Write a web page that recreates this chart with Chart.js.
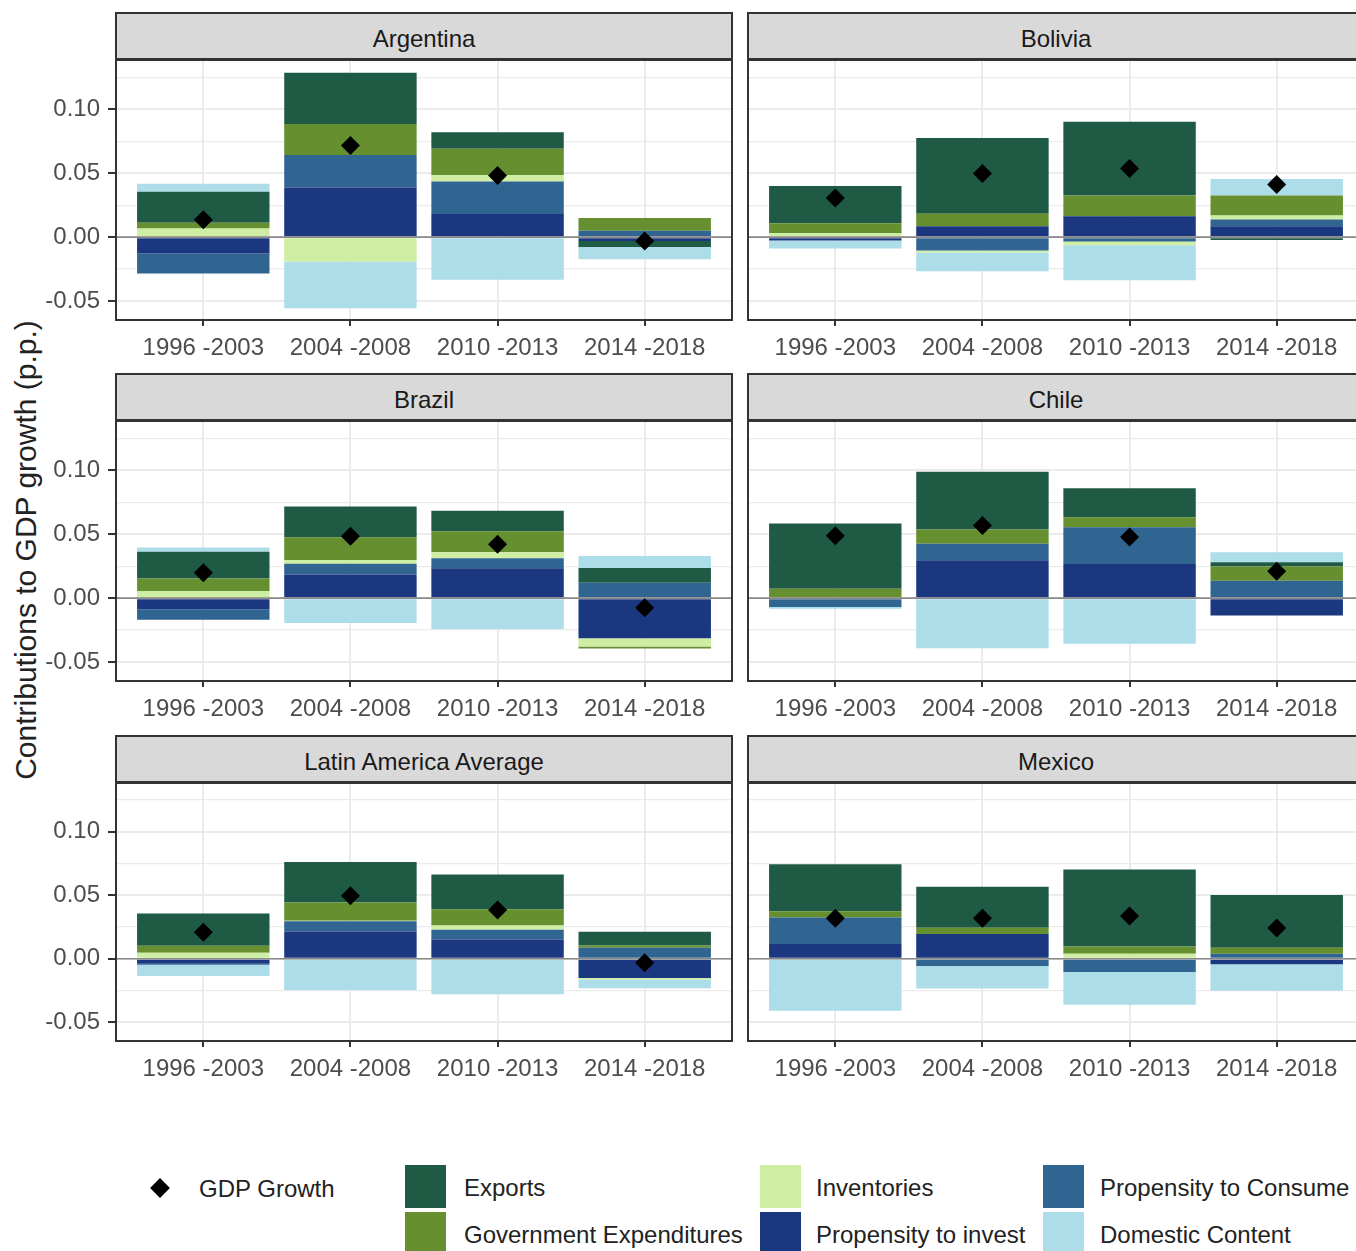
<!DOCTYPE html>
<html>
<head>
<meta charset="utf-8">
<title>Contributions to GDP growth</title>
<script src="https://cdn.jsdelivr.net/npm/chart.js@4.4.0/dist/chart.umd.min.js"></script>
<style>
  html, body { margin: 0; padding: 0; overflow: hidden; }
  body { width: 1356px; height: 1251px; position: relative; background: #fff;
         font-family: "Liberation Sans", Arial, sans-serif; }
  .strip { position: absolute; height: 48px; width: 618px; box-sizing: border-box;
           background: #d9d9d9; border: 2px solid #333; text-align: center;
           line-height: 50px; font-size: 24px; color: #1a1a1a; overflow: hidden; }
  .panel { position: absolute; }
  #ytitle { position: absolute; left: 26px; top: 550px; white-space: nowrap;
            font-size: 30px; color: #222;
            transform: translate(-50%, -50%) rotate(-90deg); }
  .key { position: absolute; width: 41px; height: 43px; }
  .diamond { position: absolute; width: 14px; height: 14px; background: #000; transform: rotate(45deg); }
  .ltext { position: absolute; font-size: 24px; color: #222; line-height: 1;
           transform: translateY(-50%); white-space: nowrap; }
</style>
</head>
<body>
<div id="ytitle">Contributions to GDP growth (p.p.)</div>
<div id="legend"></div>

<script>
const periods = ['1996 -2003', '2004 -2008', '2010 -2013', '2014 -2018'];
const countries = ['Argentina', 'Bolivia', 'Brazil', 'Chile', 'Latin America Average', 'Mexico'];

// one row per country (same order as countries), one column per period
const propInvest = [
  [-0.0128, 0.0388, 0.0180, -0.0030],
  [-0.0026, 0.0086, 0.0164, 0.0086],
  [-0.0086, 0.0185, 0.0234, -0.0313],
  [-0.0008, 0.0297, 0.0266, -0.0135],
  [-0.0039, 0.0214, 0.0151, -0.0151],
  [0.0117, 0.0195, 0.0000, -0.0044]
];
const propConsume = [
  [-0.0156, 0.0255, 0.0255, 0.0050],
  [0.0000, -0.0104, -0.0034, 0.0052],
  [-0.0083, 0.0083, 0.0078, 0.0120],
  [-0.0062, 0.0128, 0.0289, 0.0135],
  [-0.0008, 0.0081, 0.0078, 0.0086],
  [0.0208, -0.0057, -0.0104, 0.0039]
];
const inventories = [
  [0.0068, -0.0190, 0.0050, 0.0000],
  [0.0030, -0.0016, -0.0030, 0.0031],
  [0.0055, 0.0031, 0.0047, -0.0065],
  [0.0000, 0.0000, 0.0000, 0.0000],
  [0.0047, 0.0005, 0.0034, -0.0013],
  [0.0000, 0.0000, 0.0040, 0.0000]
];
const govExpenditures = [
  [0.0044, 0.0242, 0.0206, 0.0099],
  [0.0078, 0.0096, 0.0161, 0.0156],
  [0.0099, 0.0177, 0.0164, -0.0016],
  [0.0073, 0.0112, 0.0078, 0.0112],
  [0.0055, 0.0143, 0.0128, 0.0018],
  [0.0049, 0.0049, 0.0057, 0.0047]
];
const exportsContrib = [
  [0.0242, 0.0401, 0.0130, -0.0047],
  [0.0292, 0.0594, 0.0578, -0.0023],
  [0.0208, 0.0240, 0.0161, 0.0115],
  [0.0510, 0.0451, 0.0227, 0.0034],
  [0.0255, 0.0320, 0.0273, 0.0109],
  [0.0370, 0.0323, 0.0607, 0.0417]
];
const domesticContent = [
  [0.0063, -0.0367, -0.0333, -0.0096],
  [-0.0063, -0.0146, -0.0273, 0.0130],
  [0.0034, -0.0195, -0.0242, 0.0094],
  [-0.0013, -0.0391, -0.0357, 0.0078],
  [-0.0089, -0.0247, -0.0279, -0.0068],
  [-0.0409, -0.0177, -0.0258, -0.0208]
];
const gdpGrowth = [
  [0.0135, 0.0716, 0.0482, -0.0031],
  [0.0305, 0.0497, 0.0536, 0.0411],
  [0.0198, 0.0484, 0.0422, -0.0076],
  [0.0487, 0.0568, 0.0477, 0.0211],
  [0.0208, 0.0497, 0.0385, -0.0031],
  [0.0320, 0.0320, 0.0336, 0.0242]
];

const yMajor = [-0.05, 0, 0.05, 0.10];
const yMinor = [-0.025, 0.025, 0.075, 0.125];
const yMin = -0.0648, yMax = 0.1385;

// stacking order, innermost first
const series = [
  { label: 'Propensity to invest', values: propInvest, color: '#1a377f' },
  { label: 'Propensity to Consume', values: propConsume, color: '#306591' },
  { label: 'Inventories', values: inventories, color: '#cdeea3' },
  { label: 'Government Expenditures', values: govExpenditures, color: '#668f30' },
  { label: 'Exports', values: exportsContrib, color: '#1f5a44' },
  { label: 'Domestic Content', values: domesticContent, color: '#addde8' }
];

Chart.defaults.font.family = '"Liberation Sans", Arial, sans-serif';

const plotW = 618, xAxisH = 52, yAxisW = 115;
const rowTops = [60, 421, 783];
const rowHeights = [260, 260, 258];
const colLefts = [115, 747];

function isMajor(v) {
  return yMajor.some(m => Math.abs(m - v) < 1e-9);
}

// panel frame and the zero reference line under the diamonds
const panelDecor = {
  id: 'panelDecor',
  beforeDatasetDraw(chart, args) {
    if (args.index !== 0) return;
    const a = chart.chartArea, ctx = chart.ctx;
    const y0 = chart.scales.y.getPixelForValue(0);
    ctx.save();
    ctx.strokeStyle = 'rgba(120,120,120,0.85)';
    ctx.lineWidth = 1.6;
    ctx.beginPath();
    ctx.moveTo(a.left, y0);
    ctx.lineTo(a.right, y0);
    ctx.stroke();
    ctx.restore();
  },
  afterDraw(chart) {
    const a = chart.chartArea, ctx = chart.ctx;
    ctx.save();
    ctx.strokeStyle = '#333';
    ctx.lineWidth = 2;
    ctx.strokeRect(a.left + 1, a.top, a.right - a.left - 2, a.bottom - a.top);
    ctx.restore();
  }
};

countries.forEach((country, i) => {
  const col = i % 2, row = Math.floor(i / 2);
  const axisW = col === 0 ? yAxisW : 0;

  const strip = document.createElement('div');
  strip.className = 'strip';
  strip.style.left = colLefts[col] + 'px';
  strip.style.top = (rowTops[row] - 48) + 'px';
  strip.textContent = country;
  document.body.appendChild(strip);

  const canvas = document.createElement('canvas');
  canvas.className = 'panel';
  canvas.width = axisW + plotW;
  canvas.height = rowHeights[row] + xAxisH;
  canvas.style.left = (colLefts[col] - axisW) + 'px';
  canvas.style.top = rowTops[row] + 'px';
  document.body.appendChild(canvas);

  const datasets = [{
    type: 'line',
    label: 'GDP Growth',
    data: gdpGrowth[i].map((v, k) => ({ x: k + 1, y: v })),
    showLine: false,
    stack: 'gdp',
    pointStyle: 'rectRot',
    pointRadius: 9.5,
    pointBorderWidth: 0,
    pointBackgroundColor: '#000',
    borderColor: '#000'
  }];
  series.forEach(s => {
    datasets.push({
      type: 'bar',
      label: s.label,
      data: s.values[i].map((v, k) => ({ x: k + 1, y: v })),
      backgroundColor: s.color,
      borderWidth: 0,
      barPercentage: 0.9,
      categoryPercentage: 1
    });
  });

  new Chart(canvas, {
    data: { datasets },
    options: {
      responsive: false,
      animation: false,
      layout: { padding: 0, autoPadding: false },
      plugins: { legend: { display: false }, tooltip: { enabled: false } },
      scales: {
        x: {
          type: 'linear', min: 0.4, max: 4.6, stacked: true, offset: false,
          afterBuildTicks: s => { s.ticks = periods.map((p, k) => ({ value: k + 1 })); },
          afterFit: s => { s.height = xAxisH; s.paddingLeft = 0; s.paddingRight = 0; },
          ticks: {
            callback: v => periods[v - 1],
            autoSkip: false, maxRotation: 0,
            color: '#4d4d4d', font: { size: 24 }, padding: 8
          },
          grid: { offset: false, color: '#ebebeb', lineWidth: 2, tickColor: '#333', tickLength: 6, tickWidth: 2 },
          border: { display: false }
        },
        y: {
          type: 'linear', min: yMin, max: yMax, stacked: true,
          afterBuildTicks: s => {
            s.ticks = yMajor.concat(yMinor).sort((a, b) => a - b).map(v => ({ value: v }));
          },
          afterFit: s => { s.width = axisW; s.paddingTop = 0; s.paddingBottom = 0; },
          ticks: {
            display: col === 0,
            callback: v => isMajor(v) ? v.toFixed(2) : '',
            color: '#4d4d4d', font: { size: 24 }, padding: 8
          },
          grid: {
            color: '#ebebeb',
            lineWidth: ctx => isMajor(ctx.tick.value) ? 2 : 1.3,
            drawTicks: col === 0,
            tickLength: 7, tickWidth: 2,
            tickColor: ctx => isMajor(ctx.tick.value) ? '#333' : 'rgba(0,0,0,0)'
          },
          border: { display: false }
        }
      }
    },
    plugins: [panelDecor]
  });
});

// legend: GDP marker, then fill keys in three columns of two rows
const legend = document.getElementById('legend');
const keyOrder = ['Exports', 'Government Expenditures', 'Inventories',
                  'Propensity to invest', 'Propensity to Consume', 'Domestic Content'];
const keyCols = [[405, 464], [760, 816], [1043, 1100]];
const keyRows = [1165, 1212];

const dm = document.createElement('div');
dm.className = 'diamond';
dm.style.left = '153px';
dm.style.top = '1181px';
legend.appendChild(dm);
const dt = document.createElement('div');
dt.className = 'ltext';
dt.style.left = '199px';
dt.style.top = '1189px';
dt.textContent = 'GDP Growth';
legend.appendChild(dt);

keyOrder.forEach((name, k) => {
  const s = series.find(d => d.label === name);
  const c = Math.floor(k / 2), r = k % 2;
  const key = document.createElement('div');
  key.className = 'key';
  key.style.left = keyCols[c][0] + 'px';
  key.style.top = keyRows[r] + 'px';
  key.style.background = s.color;
  legend.appendChild(key);
  const t = document.createElement('div');
  t.className = 'ltext';
  t.style.left = keyCols[c][1] + 'px';
  t.style.top = (keyRows[r] + 23) + 'px';
  t.textContent = name;
  legend.appendChild(t);
});
</script>
</body>
</html>
